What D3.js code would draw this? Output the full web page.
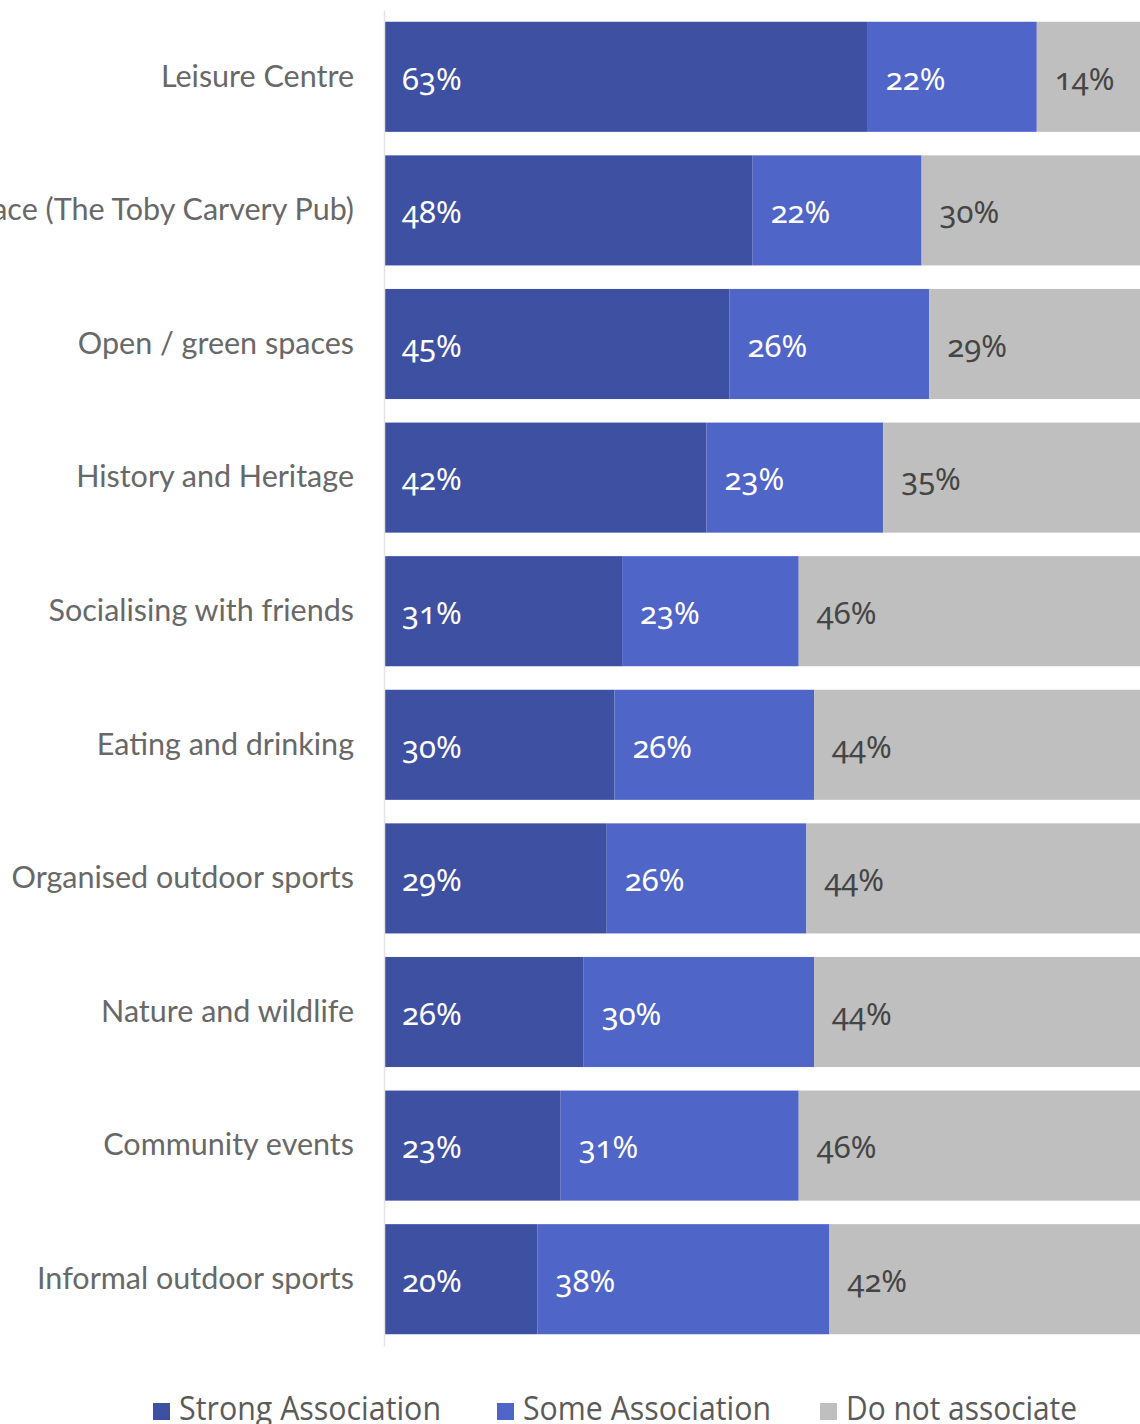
<!DOCTYPE html>
<html>
<head>
<meta charset="utf-8">
<script src="https://cdn.jsdelivr.net/npm/d3@7"></script>
<style>
  html, body { margin: 0; padding: 0; background: #ffffff; }
  svg { display: block; }
  .num { font-variant-numeric: oldstyle-nums; font-feature-settings: "onum" 1; }
</style>
</head>
<body>
<svg id="chart" width="1140" height="1424"></svg>
<script>
// Categories, top to bottom
const categories = [
  "Leisure Centre",
  "Meeting place (The Toby Carvery Pub)",
  "Open / green spaces",
  "History and Heritage",
  "Socialising with friends",
  "Eating and drinking",
  "Organised outdoor sports",
  "Nature and wildlife",
  "Community events",
  "Informal outdoor sports"
];

// Share of respondents (%) per series
const strongAssociation = [63, 48, 45, 42, 31, 30, 29, 26, 23, 20];
const someAssociation   = [22, 22, 26, 23, 23, 26, 26, 30, 31, 38];
const doNotAssociate    = [14, 30, 29, 35, 46, 44, 44, 44, 46, 42];

const seriesNames = ["Strong Association", "Some Association", "Do not associate"];
const seriesColors = ["#3e50a2", "#4f65c7", "#bfbfbf"];
const labelColors = ["#ffffff", "#ffffff", "#454545"];

const rows = categories.map((c, i) => ({
  category: c,
  "Strong Association": strongAssociation[i],
  "Some Association": someAssociation[i],
  "Do not associate": doNotAssociate[i]
}));

const svg = d3.select("#chart");

const x = d3.scaleLinear().domain([0, 100]).range([384, 1152]);
const y = d3.scaleBand()
  .domain(categories)
  .range([10, 1346])
  .paddingInner(0.176)
  .paddingOuter(0.088);

const stacked = d3.stack().keys(seriesNames)(rows);

// Stacked segments
const layer = svg.append("g")
  .selectAll("g")
  .data(stacked)
  .join("g")
  .attr("fill", (d, i) => seriesColors[i]);

layer.selectAll("rect")
  .data(d => d)
  .join("rect")
  .attr("x", d => x(d[0]))
  .attr("y", d => y(d.data.category))
  .attr("width", d => x(d[1]) - x(d[0]))
  .attr("height", y.bandwidth());

// Value labels inside segments
stacked.forEach((s, si) => {
  svg.append("g")
    .selectAll("text")
    .data(s)
    .join("text")
    .attr("class", "num")
    .attr("x", d => x(d[0]) + 18)
    .attr("y", d => y(d.data.category) + y.bandwidth() / 2 + 2)
    .attr("dy", "0.35em")
    .attr("fill", labelColors[si])
    .style("font-family", "'Noto Sans', Lato, sans-serif")
    .style("font-size", "31px")
    .text(d => (d[1] - d[0]) + "%");
});

// Category axis
const yAxis = svg.append("g")
  .attr("transform", `translate(${x(0)},0)`)
  .call(d3.axisLeft(y).tickSize(0).tickPadding(30));

yAxis.select(".domain")
  .attr("stroke", "#e4e4e4")
  .attr("stroke-width", 1.5);

yAxis.selectAll("text")
  .attr("fill", "#686868")
  .style("font-family", "Lato, 'Noto Sans', sans-serif")
  .style("font-size", "30.5px");

// Legend
const legendItems = [
  { name: seriesNames[0], color: seriesColors[0], x: 153, w: 262 },
  { name: seriesNames[1], color: seriesColors[1], x: 497, w: 248 },
  { name: seriesNames[2], color: seriesColors[2], x: 820, w: 231 }
];

const legend = svg.append("g");
const item = legend.selectAll("g")
  .data(legendItems)
  .join("g")
  .attr("transform", d => `translate(${d.x},1403)`);

item.append("rect")
  .attr("width", 17)
  .attr("height", 17)
  .attr("fill", d => d.color);

item.append("text")
  .attr("x", 26)
  .attr("y", 17)
  .attr("fill", "#5a5a5a")
  .attr("textLength", d => d.w)
  .attr("lengthAdjust", "spacingAndGlyphs")
  .style("font-family", "'Open Sans', sans-serif")
  .style("font-size", "32px")
  .text(d => d.name);
</script>
</body>
</html>
